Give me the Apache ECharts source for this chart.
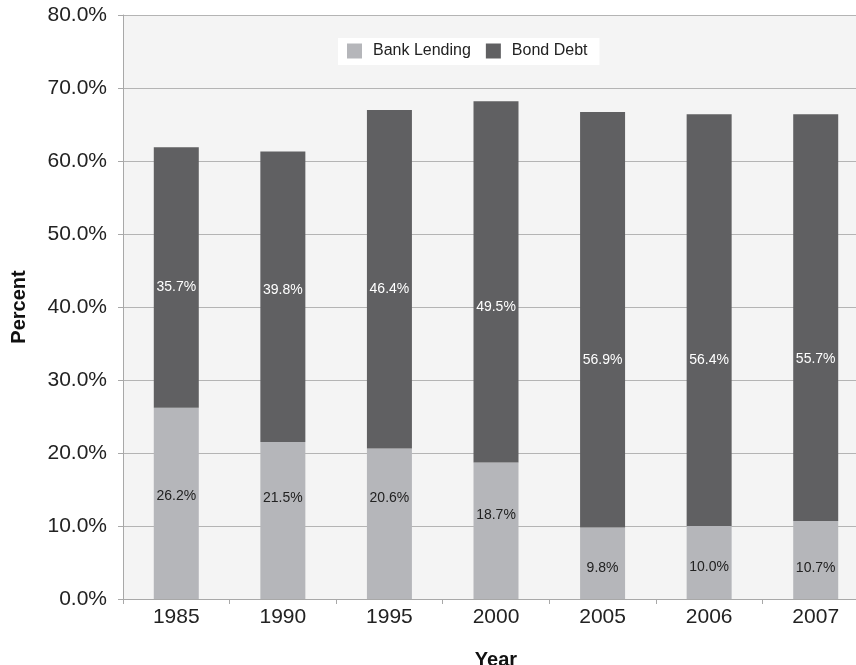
<!DOCTYPE html>
<html>
<head>
<meta charset="utf-8">
<script src="https://cdn.jsdelivr.net/npm/echarts@6/dist/echarts.min.js"></script>
<style>
  html, body { margin: 0; padding: 0; background: #ffffff; }
  #chart { width: 856px; height: 665px; }
</style>
</head>
<body>
<div id="chart"></div>
<script>
// Share of corporate financing by source, percent
const years = ['1985', '1990', '1995', '2000', '2005', '2006', '2007'];
const bankLending = [26.2, 21.5, 20.6, 18.7, 9.8, 10.0, 10.7];
const bondDebt = [35.7, 39.8, 46.4, 49.5, 56.9, 56.4, 55.7];
const yTicks = [0, 10, 20, 30, 40, 50, 60, 70, 80];

// Vertical nudges (px) for the value labels inside each bar segment
const bankLabelShift = [-7, -22, -26, -16, 5, 5, 8];
const bondLabelShift = [10, -7, 10, 25, 40, 40, 42];

const FONT = '"Liberation Sans", Arial, Helvetica, sans-serif';

function withLabels(values, shifts) {
  return values.map((v, i) => ({ value: v, label: { offset: [0, shifts[i]] } }));
}

const chart = echarts.init(document.getElementById('chart'), null, { renderer: 'canvas' });

chart.setOption({
  animation: false,
  backgroundColor: '#ffffff',
  textStyle: { fontFamily: FONT },
  grid: {
    left: 123,
    top: 15,
    width: 746,
    height: 584,
    containLabel: false,
    outerBoundsMode: 'none',
    show: true,
    backgroundColor: '#f4f4f4',
    borderWidth: 0
  },
  legend: {
    data: ['Bank Lending', 'Bond Debt'],
    left: 338,
    top: 38,
    backgroundColor: '#ffffff',
    padding: [5, 12, 6, 9],
    itemWidth: 15,
    itemHeight: 15,
    itemGap: 15,
    icon: 'rect',
    textStyle: { fontFamily: FONT, fontSize: 16, color: '#222222', padding: [0, 0, 0, 6] }
  },
  xAxis: {
    type: 'category',
    data: years,
    name: 'Year',
    nameLocation: 'middle',
    nameGap: 51,
    nameTextStyle: { fontFamily: FONT, fontSize: 20, fontWeight: 'bold', color: '#111111' },
    axisLine: { show: true, lineStyle: { color: '#a8a8a8', width: 1 } },
    axisTick: { show: true, length: 5, lineStyle: { color: '#a8a8a8' } },
    axisLabel: { fontFamily: FONT, fontSize: 21, color: '#222222', margin: 8 }
  },
  yAxis: {
    type: 'value',
    min: yTicks[0],
    max: yTicks[yTicks.length - 1],
    interval: 10,
    name: 'Percent',
    nameLocation: 'middle',
    nameGap: 94,
    nameRotate: 90,
    nameTextStyle: { fontFamily: FONT, fontSize: 20, fontWeight: 'bold', color: '#111111' },
    axisLine: { show: true, lineStyle: { color: '#a8a8a8', width: 1 } },
    axisTick: { show: true, length: 5, lineStyle: { color: '#a8a8a8' } },
    splitLine: { show: true, lineStyle: { color: '#b4b4b4', width: 1 } },
    axisLabel: {
      fontFamily: FONT, fontSize: 21, color: '#222222', margin: 16,
      formatter: v => v.toFixed(1) + '%'
    }
  },
  series: [
    {
      name: 'Bank Lending',
      type: 'bar',
      stack: 'total',
      barWidth: 45,
      itemStyle: { color: '#b5b6ba' },
      label: {
        show: true, position: 'inside', fontFamily: FONT, fontSize: 14, color: '#222222',
        formatter: p => p.value.toFixed(1) + '%'
      },
      data: withLabels(bankLending, bankLabelShift)
    },
    {
      name: 'Bond Debt',
      type: 'bar',
      stack: 'total',
      barWidth: 45,
      itemStyle: { color: '#606062' },
      label: {
        show: true, position: 'inside', fontFamily: FONT, fontSize: 14, color: '#ffffff',
        formatter: p => p.value.toFixed(1) + '%'
      },
      data: withLabels(bondDebt, bondLabelShift)
    }
  ]
});
</script>
</body>
</html>
